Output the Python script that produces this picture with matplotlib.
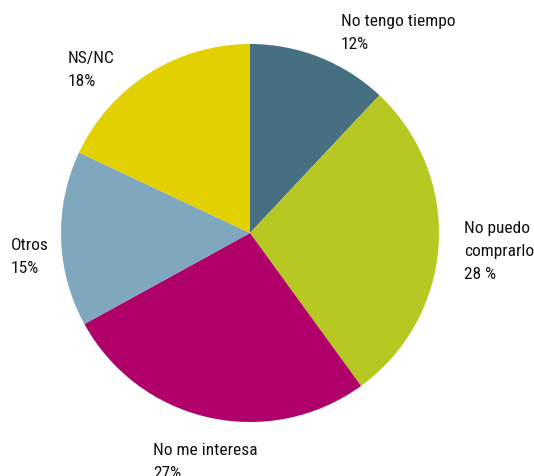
import matplotlib
matplotlib.use("Agg")
import matplotlib.pyplot as plt

labels = ["No tengo tiempo", "No puedo\ncomprarlo", "No me interesa", "Otros", "NS/NC"]
pct_text = ["12%", "28 %", "27%", "15%", "18%"]
values = [12, 28, 27, 15, 18]
colors = ["#476F82", "#B8C823", "#B0006A", "#7FA8BE", "#E2D000"]

# label anchor positions in pixels (left, top), image coordinates
label_pos = [(341, 14), (464, 221), (153, 443), (11, 238), (68, 51)]

W, H = 534, 477
fig = plt.figure(figsize=(W / 100, H / 100), dpi=100)
ax = fig.add_axes([0, 0, 1, 1])

ax.pie(values, colors=colors, startangle=90, counterclock=False,
       center=(250, H - 234), radius=189, frame=True,
       wedgeprops=dict(linewidth=0))
ax.set_xlim(0, W)
ax.set_ylim(0, H)
ax.set_aspect("equal")
ax.axis("off")

for lab, p, (x, y) in zip(labels, pct_text, label_pos):
    ax.text(x, H - y, f"{lab}\n{p}", ha="left", va="top", fontsize=12.5,
            family=["Roboto Condensed", "Liberation Sans"],
            linespacing=1.65, color="#111111")

fig.savefig("out.png", dpi=100)
